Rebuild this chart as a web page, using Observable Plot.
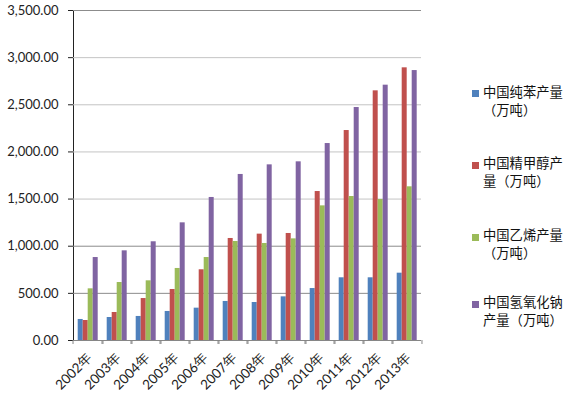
<!DOCTYPE html>
<html><head><meta charset="utf-8">
<script src="https://cdn.jsdelivr.net/npm/d3@7"></script>
<script src="https://cdn.jsdelivr.net/npm/@observablehq/plot@0.6"></script>
<style>
body{margin:0;background:#fff;}
#wrap{position:relative;width:588px;height:396px;overflow:hidden;}
#chart{position:absolute;left:0;top:0;}
.item{position:absolute;left:0;width:120px;font-family:"Noto Sans CJK SC";font-size:13.3px;color:#111;}
.sw{position:absolute;left:472px;width:7px;height:7px;}
.lbl{position:absolute;left:483px;width:82px;line-height:18.3px;}
</style></head>
<body>
<div id="wrap"><div id="chart"></div><div id="legend"></div></div>
<script>
const years = ["2002年","2003年","2004年","2005年","2006年","2007年","2008年","2009年","2010年","2011年","2012年","2013年"];
const seriesNames = ["中国纯苯产量（万吨）","中国精甲醇产量（万吨）","中国乙烯产量（万吨）","中国氢氧化钠产量（万吨）"];
const benzene  = [223,244,255,308,343,414,403,463,551,665,665,714];
const methanol = [212,297,445,541,750,1082,1128,1135,1580,2227,2648,2892];
const ethylene = [548,615,633,764,880,1050,1029,1078,1428,1527,1495,1630];
const caustic  = [880,951,1047,1248,1517,1761,1863,1895,2089,2471,2708,2863];
const yTicks = [0,500,1000,1500,2000,2500,3000,3500];
const colors = ["#4f81bd","#c0504d","#9bbb59","#8064a2"];

const valuesBySeries = [benzene, methanol, ethylene, caustic];
const data = [];
years.forEach((yr, i) => seriesNames.forEach((s, j) => data.push({year: yr, series: s, value: valuesBySeries[j][i]})));

const W = 440, mL = 67.3, mR = 13.3;
const band = (W - mL - mR) / years.length;

const chart = Plot.plot({
  width: W, height: 396,
  marginLeft: mL, marginRight: mR, marginTop: 10, marginBottom: 56,
  style: {fontFamily: "Lato", fontSize: "13px", color: "#222", background: "transparent"},
  fx: {domain: years, padding: 0, label: null},
  x: {domain: seriesNames, paddingInner: 0, paddingOuter: 0.76, axis: null},
  y: {domain: [0, 3500], ticks: yTicks, tickFormat: d3.format(",.2f"), tickSize: 5, tickPadding: 10, line: true, label: null},
  color: {domain: seriesNames, range: colors},
  marks: [
    Plot.gridY(yTicks.filter(d => d > 0), {stroke: d => [500,1000,3500].includes(d) ? "#8c8c8c" : "#c4c4c4", strokeOpacity: 1}),
    Plot.barY(data, {fx: "year", x: "series", y: "value", fill: "series"}),
    Plot.ruleY([0], {stroke: "#868686"}),
    Plot.axisFx({anchor: "bottom", tickRotate: -45, tickSize: 0, tickPadding: 15, dx: 2, fontSize: 13.5, label: null}),
    Plot.axisFx({anchor: "bottom", text: null, tickSize: 4, dx: -band / 2, stroke: "#868686", label: null}),
    Plot.axisFx([years[years.length - 1]], {anchor: "bottom", text: null, tickSize: 4, dx: band / 2, stroke: "#868686", label: null})
  ]
});
chart.querySelectorAll('[aria-label="y-axis tick"], [aria-label="y-axis line"]').forEach(g => g.setAttribute("stroke", "#868686"));
document.getElementById("chart").appendChild(chart);

const tops = [82.5, 154, 226, 293];
const legend = document.getElementById("legend");
seriesNames.forEach((s, j) => {
  const sw = document.createElement("div");
  sw.className = "sw"; sw.style.background = colors[j]; sw.style.top = (tops[j] + 7.5) + "px";
  const lbl = document.createElement("div");
  lbl.className = "lbl item"; lbl.style.left = "483px"; lbl.style.width = "82px"; lbl.style.top = tops[j] + "px";
  lbl.textContent = s;
  legend.appendChild(sw); legend.appendChild(lbl);
});
</script>
</body></html>
